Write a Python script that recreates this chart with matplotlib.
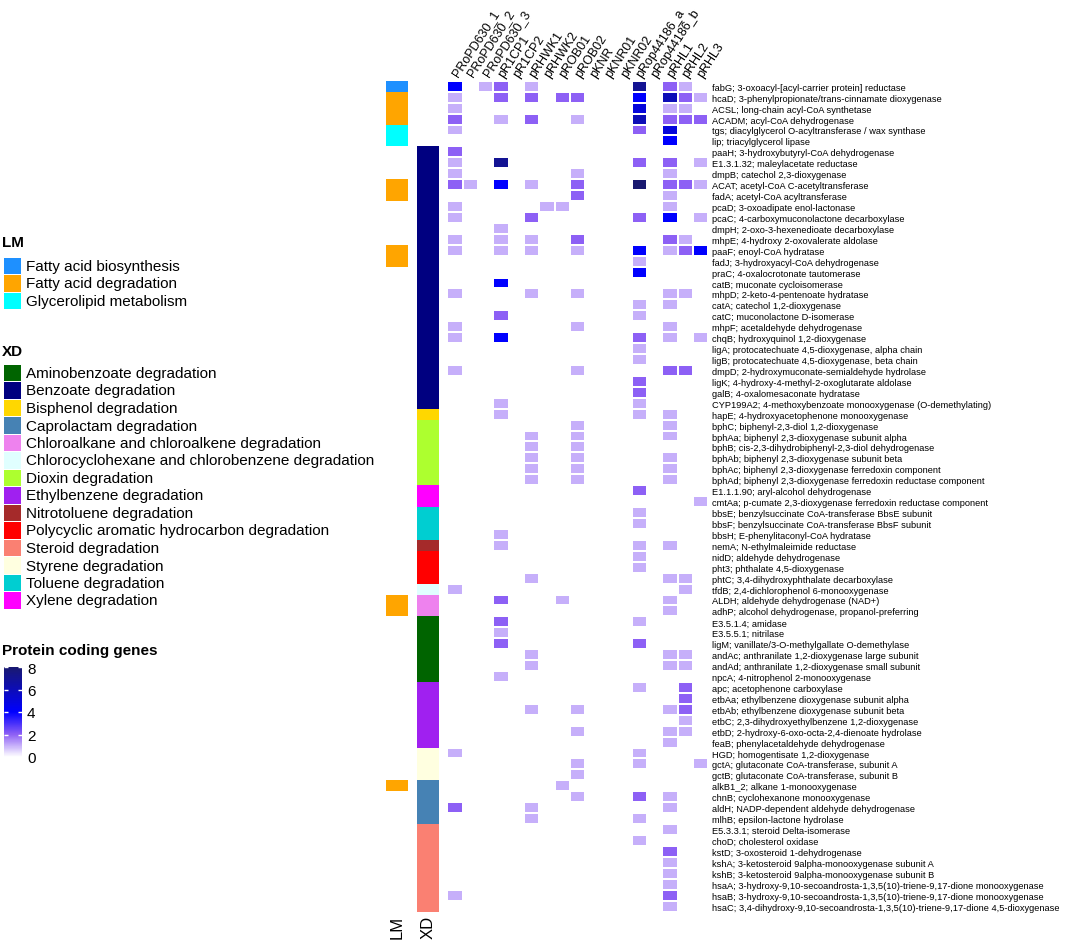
import numpy as np
import matplotlib
matplotlib.use("Agg")
import matplotlib.pyplot as plt
from matplotlib.colors import LinearSegmentedColormap, ListedColormap
from matplotlib.patches import Rectangle

plt.rcParams['font.family'] = ['Liberation Sans', 'DejaVu Sans']

W, H = 1065, 945

plasmids = ["PRoPD630_1", "PRoPD630_2", "PRoPD630_3", "pR1CP1", "pR1CP2", "pRHWK1",
            "pRHWK2", "pROB01", "pROB02", "pKNR", "pKNR01", "pKNR02", "pRop44186_a",
            "pRop44186_b", "pRHL1", "pRHL2", "pRHL3"]

genes = [
    "fabG; 3-oxoacyl-[acyl-carrier protein] reductase",
    "hcaD; 3-phenylpropionate/trans-cinnamate dioxygenase",
    "ACSL; long-chain acyl-CoA synthetase",
    "ACADM; acyl-CoA dehydrogenase",
    "tgs; diacylglycerol O-acyltransferase / wax synthase",
    "lip; triacylglycerol lipase",
    "paaH; 3-hydroxybutyryl-CoA dehydrogenase",
    "E1.3.1.32; maleylacetate reductase",
    "dmpB; catechol 2,3-dioxygenase",
    "ACAT; acetyl-CoA C-acetyltransferase",
    "fadA; acetyl-CoA acyltransferase",
    "pcaD; 3-oxoadipate enol-lactonase",
    "pcaC; 4-carboxymuconolactone decarboxylase",
    "dmpH; 2-oxo-3-hexenedioate decarboxylase",
    "mhpE; 4-hydroxy 2-oxovalerate aldolase",
    "paaF; enoyl-CoA hydratase",
    "fadJ; 3-hydroxyacyl-CoA dehydrogenase",
    "praC; 4-oxalocrotonate tautomerase",
    "catB; muconate cycloisomerase",
    "mhpD; 2-keto-4-pentenoate hydratase",
    "catA; catechol 1,2-dioxygenase",
    "catC; muconolactone D-isomerase",
    "mhpF; acetaldehyde dehydrogenase",
    "chqB; hydroxyquinol 1,2-dioxygenase",
    "ligA; protocatechuate 4,5-dioxygenase, alpha chain",
    "ligB; protocatechuate 4,5-dioxygenase, beta chain",
    "dmpD; 2-hydroxymuconate-semialdehyde hydrolase",
    "ligK; 4-hydroxy-4-methyl-2-oxoglutarate aldolase",
    "galB; 4-oxalomesaconate hydratase",
    "CYP199A2; 4-methoxybenzoate monooxygenase (O-demethylating)",
    "hapE; 4-hydroxyacetophenone monooxygenase",
    "bphC; biphenyl-2,3-diol 1,2-dioxygenase",
    "bphAa; biphenyl 2,3-dioxygenase subunit alpha",
    "bphB; cis-2,3-dihydrobiphenyl-2,3-diol dehydrogenase",
    "bphAb; biphenyl 2,3-dioxygenase subunit beta",
    "bphAc; biphenyl 2,3-dioxygenase ferredoxin component",
    "bphAd; biphenyl 2,3-dioxygenase ferredoxin reductase component",
    "E1.1.1.90; aryl-alcohol dehydrogenase",
    "cmtAa; p-cumate 2,3-dioxygenase ferredoxin reductase component",
    "bbsE; benzylsuccinate CoA-transferase BbsE subunit",
    "bbsF; benzylsuccinate CoA-transferase BbsF subunit",
    "bbsH; E-phenylitaconyl-CoA hydratase",
    "nemA; N-ethylmaleimide reductase",
    "nidD; aldehyde dehydrogenase",
    "pht3; phthalate 4,5-dioxygenase",
    "phtC; 3,4-dihydroxyphthalate decarboxylase",
    "tfdB; 2,4-dichlorophenol 6-monooxygenase",
    "ALDH; aldehyde dehydrogenase (NAD+)",
    "adhP; alcohol dehydrogenase, propanol-preferring",
    "E3.5.1.4; amidase",
    "E3.5.5.1; nitrilase",
    "ligM; vanillate/3-O-methylgallate O-demethylase",
    "andAc; anthranilate 1,2-dioxygenase large subunit",
    "andAd; anthranilate 1,2-dioxygenase small subunit",
    "npcA; 4-nitrophenol 2-monooxygenase",
    "apc; acetophenone carboxylase",
    "etbAa; ethylbenzene dioxygenase subunit alpha",
    "etbAb; ethylbenzene dioxygenase subunit beta",
    "etbC; 2,3-dihydroxyethylbenzene 1,2-dioxygenase",
    "etbD; 2-hydroxy-6-oxo-octa-2,4-dienoate hydrolase",
    "feaB; phenylacetaldehyde dehydrogenase",
    "HGD; homogentisate 1,2-dioxygenase",
    "gctA; glutaconate CoA-transferase, subunit A",
    "gctB; glutaconate CoA-transferase, subunit B",
    "alkB1_2; alkane 1-monooxygenase",
    "chnB; cyclohexanone monooxygenase",
    "aldH; NADP-dependent aldehyde dehydrogenase",
    "mlhB; epsilon-lactone hydrolase",
    "E5.3.3.1; steroid Delta-isomerase",
    "choD; cholesterol oxidase",
    "kstD; 3-oxosteroid 1-dehydrogenase",
    "kshA; 3-ketosteroid 9alpha-monooxygenase subunit A",
    "kshB; 3-ketosteroid 9alpha-monooxygenase subunit B",
    "hsaA; 3-hydroxy-9,10-secoandrosta-1,3,5(10)-triene-9,17-dione monooxygenase",
    "hsaB; 3-hydroxy-9,10-secoandrosta-1,3,5(10)-triene-9,17-dione monooxygenase",
    "hsaC; 3,4-dihydroxy-9,10-secoandrosta-1,3,5(10)-triene-9,17-dione 4,5-dioxygenase",
]

# gene counts, one row per gene, one column per plasmid
counts = [
    [4, 0, 1, 2, 0, 1, 0, 0, 0, 0, 0, 0, 7, 0, 2, 1, 0],
    [1, 0, 0, 2, 0, 2, 0, 2, 2, 0, 0, 0, 4, 0, 6, 2, 1],
    [1, 0, 0, 0, 0, 0, 0, 0, 0, 0, 0, 0, 5, 0, 1, 1, 0],
    [2, 0, 0, 1, 0, 2, 0, 0, 1, 0, 0, 0, 6, 0, 2, 2, 2],
    [1, 0, 0, 0, 0, 0, 0, 0, 0, 0, 0, 0, 2, 0, 5, 0, 0],
    [0, 0, 0, 0, 0, 0, 0, 0, 0, 0, 0, 0, 0, 0, 4, 0, 0],
    [2, 0, 0, 0, 0, 0, 0, 0, 0, 0, 0, 0, 0, 0, 0, 0, 0],
    [1, 0, 0, 7, 0, 0, 0, 0, 0, 0, 0, 0, 2, 0, 2, 0, 1],
    [1, 0, 0, 0, 0, 0, 0, 0, 1, 0, 0, 0, 0, 0, 1, 0, 0],
    [2, 1, 0, 4, 0, 1, 0, 0, 2, 0, 0, 0, 8, 0, 2, 2, 1],
    [0, 0, 0, 0, 0, 0, 0, 0, 2, 0, 0, 0, 0, 0, 1, 0, 0],
    [1, 0, 0, 0, 0, 0, 1, 1, 0, 0, 0, 0, 0, 0, 1, 0, 0],
    [1, 0, 0, 0, 0, 2, 0, 0, 0, 0, 0, 0, 2, 0, 4, 0, 1],
    [0, 0, 0, 1, 0, 0, 0, 0, 0, 0, 0, 0, 0, 0, 0, 0, 0],
    [1, 0, 0, 1, 0, 1, 0, 0, 2, 0, 0, 0, 0, 0, 2, 1, 0],
    [1, 0, 0, 1, 0, 1, 0, 0, 1, 0, 0, 0, 4, 0, 1, 2, 4],
    [0, 0, 0, 0, 0, 0, 0, 0, 0, 0, 0, 0, 1, 0, 0, 0, 0],
    [0, 0, 0, 0, 0, 0, 0, 0, 0, 0, 0, 0, 4, 0, 0, 0, 0],
    [0, 0, 0, 4, 0, 0, 0, 0, 0, 0, 0, 0, 0, 0, 0, 0, 0],
    [1, 0, 0, 0, 0, 1, 0, 0, 1, 0, 0, 0, 0, 0, 1, 1, 0],
    [0, 0, 0, 0, 0, 0, 0, 0, 0, 0, 0, 0, 1, 0, 1, 0, 0],
    [0, 0, 0, 2, 0, 0, 0, 0, 0, 0, 0, 0, 1, 0, 0, 0, 0],
    [1, 0, 0, 0, 0, 0, 0, 0, 1, 0, 0, 0, 0, 0, 1, 0, 0],
    [1, 0, 0, 4, 0, 0, 0, 0, 0, 0, 0, 0, 2, 0, 1, 0, 1],
    [0, 0, 0, 0, 0, 0, 0, 0, 0, 0, 0, 0, 1, 0, 0, 0, 0],
    [0, 0, 0, 0, 0, 0, 0, 0, 0, 0, 0, 0, 1, 0, 0, 0, 0],
    [1, 0, 0, 0, 0, 0, 0, 0, 1, 0, 0, 0, 0, 0, 2, 2, 0],
    [0, 0, 0, 0, 0, 0, 0, 0, 0, 0, 0, 0, 2, 0, 0, 0, 0],
    [0, 0, 0, 0, 0, 0, 0, 0, 0, 0, 0, 0, 2, 0, 0, 0, 0],
    [0, 0, 0, 1, 0, 0, 0, 0, 0, 0, 0, 0, 1, 0, 0, 0, 0],
    [0, 0, 0, 1, 0, 0, 0, 0, 0, 0, 0, 0, 1, 0, 1, 0, 0],
    [0, 0, 0, 0, 0, 0, 0, 0, 1, 0, 0, 0, 0, 0, 1, 0, 0],
    [0, 0, 0, 0, 0, 1, 0, 0, 1, 0, 0, 0, 0, 0, 1, 0, 0],
    [0, 0, 0, 0, 0, 1, 0, 0, 1, 0, 0, 0, 0, 0, 0, 0, 0],
    [0, 0, 0, 0, 0, 1, 0, 0, 1, 0, 0, 0, 0, 0, 1, 0, 0],
    [0, 0, 0, 0, 0, 1, 0, 0, 1, 0, 0, 0, 0, 0, 1, 0, 0],
    [0, 0, 0, 0, 0, 1, 0, 0, 1, 0, 0, 0, 0, 0, 1, 0, 0],
    [0, 0, 0, 0, 0, 0, 0, 0, 0, 0, 0, 0, 2, 0, 0, 0, 0],
    [0, 0, 0, 0, 0, 0, 0, 0, 0, 0, 0, 0, 0, 0, 0, 0, 1],
    [0, 0, 0, 0, 0, 0, 0, 0, 0, 0, 0, 0, 1, 0, 0, 0, 0],
    [0, 0, 0, 0, 0, 0, 0, 0, 0, 0, 0, 0, 1, 0, 0, 0, 0],
    [0, 0, 0, 1, 0, 0, 0, 0, 0, 0, 0, 0, 0, 0, 0, 0, 0],
    [0, 0, 0, 1, 0, 0, 0, 0, 0, 0, 0, 0, 1, 0, 1, 0, 0],
    [0, 0, 0, 0, 0, 0, 0, 0, 0, 0, 0, 0, 1, 0, 0, 0, 0],
    [0, 0, 0, 0, 0, 0, 0, 0, 0, 0, 0, 0, 1, 0, 0, 0, 0],
    [0, 0, 0, 0, 0, 1, 0, 0, 0, 0, 0, 0, 0, 0, 1, 1, 0],
    [1, 0, 0, 0, 0, 0, 0, 0, 0, 0, 0, 0, 0, 0, 0, 1, 0],
    [0, 0, 0, 2, 0, 0, 0, 1, 0, 0, 0, 0, 0, 0, 1, 0, 0],
    [0, 0, 0, 0, 0, 0, 0, 0, 0, 0, 0, 0, 0, 0, 1, 0, 0],
    [0, 0, 0, 2, 0, 0, 0, 0, 0, 0, 0, 0, 1, 0, 0, 0, 0],
    [0, 0, 0, 1, 0, 0, 0, 0, 0, 0, 0, 0, 0, 0, 0, 0, 0],
    [0, 0, 0, 2, 0, 0, 0, 0, 0, 0, 0, 0, 2, 0, 0, 0, 0],
    [0, 0, 0, 0, 0, 1, 0, 0, 0, 0, 0, 0, 0, 0, 1, 1, 0],
    [0, 0, 0, 0, 0, 1, 0, 0, 0, 0, 0, 0, 0, 0, 1, 1, 0],
    [0, 0, 0, 1, 0, 0, 0, 0, 0, 0, 0, 0, 0, 0, 0, 0, 0],
    [0, 0, 0, 0, 0, 0, 0, 0, 0, 0, 0, 0, 1, 0, 0, 2, 0],
    [0, 0, 0, 0, 0, 0, 0, 0, 0, 0, 0, 0, 0, 0, 0, 2, 0],
    [0, 0, 0, 0, 0, 1, 0, 0, 1, 0, 0, 0, 0, 0, 1, 2, 0],
    [0, 0, 0, 0, 0, 0, 0, 0, 0, 0, 0, 0, 0, 0, 0, 1, 0],
    [0, 0, 0, 0, 0, 0, 0, 0, 1, 0, 0, 0, 0, 0, 1, 1, 0],
    [0, 0, 0, 0, 0, 0, 0, 0, 0, 0, 0, 0, 0, 0, 1, 0, 0],
    [1, 0, 0, 0, 0, 0, 0, 0, 0, 0, 0, 0, 1, 0, 0, 0, 0],
    [0, 0, 0, 0, 0, 0, 0, 0, 1, 0, 0, 0, 1, 0, 0, 0, 1],
    [0, 0, 0, 0, 0, 0, 0, 0, 1, 0, 0, 0, 0, 0, 0, 0, 0],
    [0, 0, 0, 0, 0, 0, 0, 1, 0, 0, 0, 0, 0, 0, 0, 0, 0],
    [0, 0, 0, 0, 0, 0, 0, 0, 1, 0, 0, 0, 2, 0, 1, 0, 0],
    [2, 0, 0, 0, 0, 1, 0, 0, 0, 0, 0, 0, 0, 0, 1, 0, 0],
    [0, 0, 0, 0, 0, 1, 0, 0, 0, 0, 0, 0, 1, 0, 0, 0, 0],
    [0, 0, 0, 0, 0, 0, 0, 0, 0, 0, 0, 0, 0, 0, 1, 0, 0],
    [0, 0, 0, 0, 0, 0, 0, 0, 0, 0, 0, 0, 1, 0, 0, 0, 0],
    [0, 0, 0, 0, 0, 0, 0, 0, 0, 0, 0, 0, 0, 0, 2, 0, 0],
    [0, 0, 0, 0, 0, 0, 0, 0, 0, 0, 0, 0, 0, 0, 1, 0, 0],
    [0, 0, 0, 0, 0, 0, 0, 0, 0, 0, 0, 0, 0, 0, 1, 0, 0],
    [0, 0, 0, 0, 0, 0, 0, 0, 0, 0, 0, 0, 0, 0, 1, 0, 0],
    [1, 0, 0, 0, 0, 0, 0, 0, 0, 0, 0, 0, 0, 0, 2, 0, 0],
    [0, 0, 0, 0, 0, 0, 0, 0, 0, 0, 0, 0, 0, 0, 1, 0, 0],
]

# row annotations as (category, number of consecutive rows); None = no annotation
lm_runs = [("Fatty acid biosynthesis", 1), ("Fatty acid degradation", 3),
           ("Glycerolipid metabolism", 2), (None, 3), ("Fatty acid degradation", 2),
           (None, 4), ("Fatty acid degradation", 2), (None, 30),
           ("Fatty acid degradation", 2), (None, 15), ("Fatty acid degradation", 1),
           (None, 11)]
xd_runs = [(None, 6), ("Benzoate degradation", 24), ("Bisphenol degradation", 1),
           ("Dioxin degradation", 6), ("Xylene degradation", 2), ("Toluene degradation", 3),
           ("Nitrotoluene degradation", 1), ("Polycyclic aromatic hydrocarbon degradation", 3),
           ("Chlorocyclohexane and chlorobenzene degradation", 1),
           ("Chloroalkane and chloroalkene degradation", 2), ("Aminobenzoate degradation", 6),
           ("Ethylbenzene degradation", 6), ("Styrene degradation", 3),
           ("Caprolactam degradation", 4), ("Steroid degradation", 8)]

lm_colors = {"Fatty acid biosynthesis": "#1E90FF",
             "Fatty acid degradation": "#FFA500",
             "Glycerolipid metabolism": "#00FFFF"}
xd_colors = {"Aminobenzoate degradation": "#006400",
             "Benzoate degradation": "#000080",
             "Bisphenol degradation": "#FFD700",
             "Caprolactam degradation": "#4682B4",
             "Chloroalkane and chloroalkene degradation": "#EE82EE",
             "Chlorocyclohexane and chlorobenzene degradation": "#E0FFFF",
             "Dioxin degradation": "#ADFF2F",
             "Ethylbenzene degradation": "#A020F0",
             "Nitrotoluene degradation": "#A52A2A",
             "Polycyclic aromatic hydrocarbon degradation": "#FF0000",
             "Steroid degradation": "#FA8072",
             "Styrene degradation": "#FFFFE0",
             "Toluene degradation": "#00CED1",
             "Xylene degradation": "#FF00FF"}

cmap = LinearSegmentedColormap.from_list(
    "genes", [(0, "#FFFFFF"), (0.25, "#8E60F5"), (0.5, "#0000FF"), (1.0, "#191970")])


def box(x0, y0, x1, y1):
    # pixel box (top-left origin) -> figure fraction rect
    return [x0 / W, 1 - y1 / H, (x1 - x0) / W, (y1 - y0) / H]


def expand(runs):
    out = []
    for name, n in runs:
        out += [name] * n
    return out


fig = plt.figure(figsize=(W / 100, H / 100), dpi=100)

top, bottom = 81.8, 912.5
data = np.array(counts, dtype=float)
nrow, ncol = data.shape

ax = fig.add_axes(box(447.3, top, 708.3, bottom))
ax.pcolormesh(np.arange(ncol + 1) - 0.5, np.arange(nrow + 1) - 0.5, data,
              cmap=cmap, vmin=0, vmax=8, edgecolors="white", linewidth=1.4)
ax.set_xlim(-0.5, ncol - 0.5)
ax.set_ylim(nrow - 0.5, -0.5)
for s in ax.spines.values():
    s.set_visible(False)
ax.yaxis.tick_right()
ax.set_yticks(range(nrow))
ax.set_yticklabels(genes, fontsize=6.7)
ax.xaxis.tick_top()
ax.set_xticks(range(ncol))
ax.set_xticklabels(plasmids, fontsize=9, rotation=57, ha="left", va="center",
                   rotation_mode="anchor")
ax.tick_params(length=0, pad=2.5)
ax.tick_params(axis="x", pad=4)


def strip(x0, x1, runs, colors, label):
    sax = fig.add_axes(box(x0, top, x1, bottom))
    names = list(colors.keys())
    rows = expand(runs)
    idx = np.ma.masked_invalid([[names.index(r) if r else np.nan] for r in rows])
    sax.pcolormesh(np.array([0, 1]), np.arange(nrow + 1), idx,
                   cmap=ListedColormap([colors[n] for n in names]),
                   vmin=-0.5, vmax=len(names) - 0.5)
    sax.set_ylim(nrow, 0)
    sax.set_xlim(0, 1)
    sax.axis("off")
    sax.text(0.5, -0.004, label, transform=sax.transAxes, rotation=90,
             ha="center", va="top", fontsize=12)


strip(386, 408, lm_runs, lm_colors, "LM")
strip(417, 439, xd_runs, xd_colors, "XD")


def legend(title, colors, y_title, y_first, step=17.5):
    fig.text(2 / W, 1 - y_title / H, title, fontsize=11, fontweight="bold",
             ha="left", va="center")
    for i, (name, col) in enumerate(colors.items()):
        yc = y_first + i * step
        fig.patches.append(Rectangle((4 / W, 1 - (yc + 8.3) / H), 17 / W, 16.6 / H,
                                     transform=fig.transFigure, facecolor=col,
                                     edgecolor="none"))
        fig.text(26 / W, 1 - yc / H, name, fontsize=11, ha="left", va="center")


legend("LM", lm_colors, 243, 267)
legend("XD", xd_colors, 352, 374)

fig.text(2 / W, 1 - 651 / H, "Protein coding genes", fontsize=11, fontweight="bold",
         ha="left", va="center")
cax = fig.add_axes(box(3.5, 668, 21.5, 758))
cb = fig.colorbar(plt.cm.ScalarMappable(cmap=cmap, norm=plt.Normalize(0, 8)), cax=cax,
                  ticks=[0, 2, 4, 6, 8])
cb.outline.set_visible(False)
cax.tick_params(direction="in", color="white", length=3, width=1, labelsize=11,
                pad=4, left=True, right=True)

fig.savefig("out.png", dpi=100)
